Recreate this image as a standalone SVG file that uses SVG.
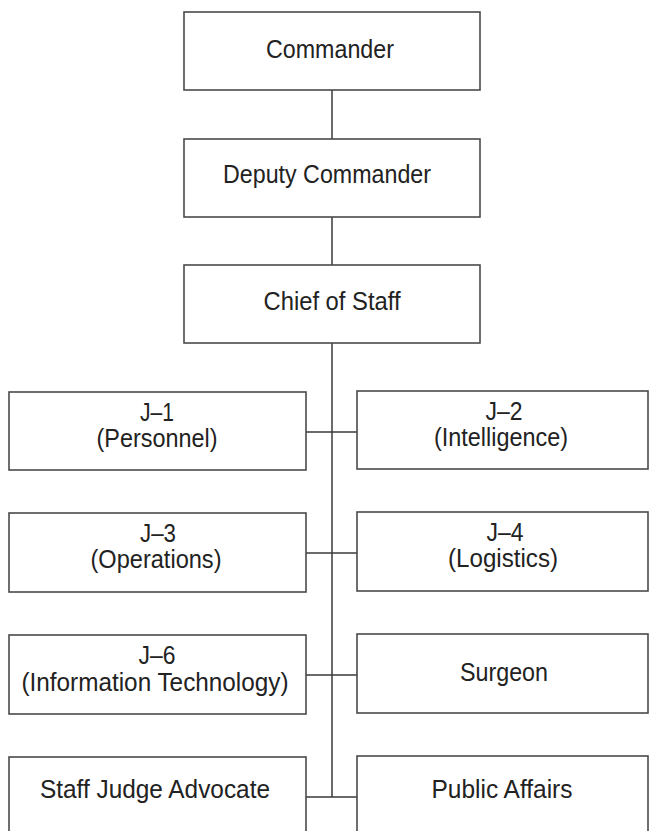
<svg xmlns="http://www.w3.org/2000/svg" width="651" height="831" viewBox="0 0 651 831">
<style>
.box{fill:#ffffff;stroke:#4a4a4a;stroke-width:1.6}
.lbl{font-family:"Liberation Sans",Arial,sans-serif;font-size:25.5px;fill:#222;text-anchor:middle}
.conn{stroke:#3a3a3a;stroke-width:1.5;fill:none}
</style>
<rect width="651" height="831" fill="#ffffff"/>
<g id="connectors">
<line class="conn" x1="332" y1="90" x2="332" y2="139"/>
<line class="conn" x1="332" y1="217" x2="332" y2="265"/>
<line class="conn" x1="332" y1="343" x2="332" y2="797"/>
<line class="conn" x1="306" y1="432" x2="357" y2="432"/>
<line class="conn" x1="306" y1="553" x2="357" y2="553"/>
<line class="conn" x1="306" y1="675" x2="357" y2="675"/>
<line class="conn" x1="306" y1="797" x2="357" y2="797"/>
</g>
<g id="commander">
<rect class="box" x="184" y="12" width="296" height="78"/>
<text class="lbl" x="330" y="58" textLength="128" lengthAdjust="spacingAndGlyphs">Commander</text>
</g>
<g id="deputy-commander">
<rect class="box" x="184" y="139" width="296" height="78"/>
<text class="lbl" x="327" y="183" textLength="208" lengthAdjust="spacingAndGlyphs">Deputy Commander</text>
</g>
<g id="chief-of-staff">
<rect class="box" x="184" y="265" width="296" height="78"/>
<text class="lbl" x="332" y="310" textLength="137" lengthAdjust="spacingAndGlyphs">Chief of Staff</text>
</g>
<g id="j1">
<rect class="box" x="9" y="392" width="297" height="78"/>
<text class="lbl" x="157" y="421" textLength="34" lengthAdjust="spacingAndGlyphs">J–1</text>
<text class="lbl" x="157" y="447" textLength="121" lengthAdjust="spacingAndGlyphs">(Personnel)</text>
</g>
<g id="j2">
<rect class="box" x="357" y="391" width="291" height="78"/>
<text class="lbl" x="504" y="420" textLength="37" lengthAdjust="spacingAndGlyphs">J–2</text>
<text class="lbl" x="501" y="446" textLength="134" lengthAdjust="spacingAndGlyphs">(Intelligence)</text>
</g>
<g id="j3">
<rect class="box" x="9" y="513" width="297" height="79"/>
<text class="lbl" x="158" y="542" textLength="36" lengthAdjust="spacingAndGlyphs">J–3</text>
<text class="lbl" x="156" y="568" textLength="131" lengthAdjust="spacingAndGlyphs">(Operations)</text>
</g>
<g id="j4">
<rect class="box" x="357" y="512" width="291" height="79"/>
<text class="lbl" x="505" y="541" textLength="37" lengthAdjust="spacingAndGlyphs">J–4</text>
<text class="lbl" x="503" y="567" textLength="110" lengthAdjust="spacingAndGlyphs">(Logistics)</text>
</g>
<g id="j6">
<rect class="box" x="9" y="635" width="297" height="79"/>
<text class="lbl" x="157" y="664" textLength="37" lengthAdjust="spacingAndGlyphs">J–6</text>
<text class="lbl" x="155" y="691" textLength="267" lengthAdjust="spacingAndGlyphs">(Information Technology)</text>
</g>
<g id="surgeon">
<rect class="box" x="357" y="634" width="291" height="79"/>
<text class="lbl" x="504" y="681" textLength="88" lengthAdjust="spacingAndGlyphs">Surgeon</text>
</g>
<g id="staff-judge-advocate">
<rect class="box" x="9" y="757" width="297" height="80"/>
<text class="lbl" x="155" y="798" textLength="230" lengthAdjust="spacingAndGlyphs">Staff Judge Advocate</text>
</g>
<g id="public-affairs">
<rect class="box" x="357" y="756" width="291" height="81"/>
<text class="lbl" x="502" y="798" textLength="141" lengthAdjust="spacingAndGlyphs">Public Affairs</text>
</g>
</svg>
